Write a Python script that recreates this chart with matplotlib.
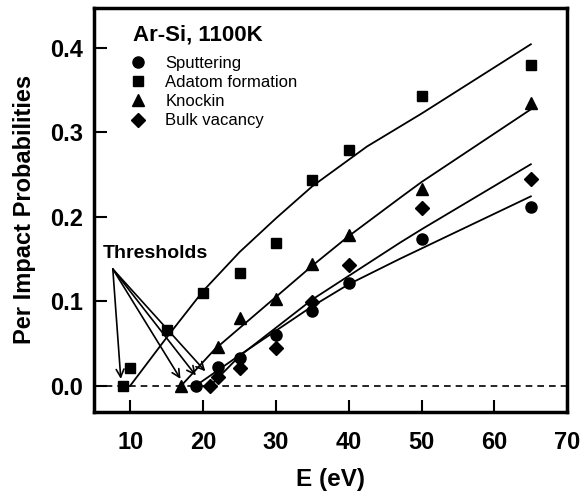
import numpy as np
import matplotlib
matplotlib.use("Agg")
import matplotlib.pyplot as plt

plt.rcParams['font.family'] = ['Liberation Sans', 'DejaVu Sans']

# measured points
sput_E = [19, 22, 25, 30, 35, 40, 50, 65]
sput_P = [0.0, 0.022, 0.033, 0.060, 0.088, 0.122, 0.174, 0.211]

adat_E = [9, 10, 15, 20, 25, 30, 35, 40, 50, 65]
adat_P = [0.0, 0.021, 0.066, 0.110, 0.133, 0.169, 0.243, 0.279, 0.343, 0.379]

knock_E = [17, 22, 25, 30, 35, 40, 50, 65]
knock_P = [0.0, 0.046, 0.080, 0.102, 0.144, 0.178, 0.233, 0.334]

bulk_E = [21, 22, 25, 30, 35, 40, 50, 65]
bulk_P = [0.0, 0.010, 0.021, 0.045, 0.099, 0.143, 0.210, 0.244]

# fitted curves
sput_fit_E = [19, 25, 35, 40, 47, 65]
sput_fit_P = [0.0, 0.036, 0.094, 0.120, 0.150, 0.224]

adat_fit_E = [10, 15, 20, 25, 30, 35, 42.5, 50, 65]
adat_fit_P = [0.0, 0.057, 0.112, 0.158, 0.198, 0.236, 0.283, 0.322, 0.404]

knock_fit_E = [17, 21.6, 30, 35, 40, 47, 50, 65]
knock_fit_P = [0.0, 0.043, 0.105, 0.142, 0.177, 0.222, 0.241, 0.327]

bulk_fit_E = [21, 25, 35, 47, 50, 65]
bulk_fit_P = [0.0, 0.035, 0.102, 0.169, 0.185, 0.262]

# threshold arrows
arrow_from = (7.6, 0.138)
arrow_to_E = [8.7, 16.9, 19.0, 20.3]
arrow_to_P = [0.008, 0.008, 0.012, 0.017]

fig = plt.figure(figsize=(5.83, 4.95), dpi=100)
ax = fig.add_axes([0.161, 0.168, 0.812, 0.816])

ax.axhline(0, color='black', lw=1.2, ls=(0, (4, 3)))

for E, P in [(sput_fit_E, sput_fit_P), (adat_fit_E, adat_fit_P),
             (knock_fit_E, knock_fit_P), (bulk_fit_E, bulk_fit_P)]:
    ax.plot(E, P, color='black', lw=1.3)

ax.plot(sput_E, sput_P, 'o', color='black', ms=8, ls='none', label='Sputtering')
ax.plot(adat_E, adat_P, 's', color='black', ms=7, ls='none', label='Adatom formation')
ax.plot(knock_E, knock_P, '^', color='black', ms=8, ls='none', label='Knockin')
ax.plot(bulk_E, bulk_P, 'D', color='black', ms=7, ls='none', label='Bulk vacancy')

for e, p in zip(arrow_to_E, arrow_to_P):
    ax.annotate('', xy=(e, p), xytext=arrow_from,
                arrowprops=dict(arrowstyle='->', color='black', lw=1.2,
                                shrinkA=0, shrinkB=0, mutation_scale=14))
ax.text(6.2, 0.156, 'Thresholds', fontsize=14, fontweight='bold',
        ha='left', va='center')

ax.set_xlim(5, 70)
ax.set_ylim(-0.031, 0.447)
ax.set_xticks([10, 20, 30, 40, 50, 60, 70])
ax.set_yticks([0.0, 0.1, 0.2, 0.3, 0.4])
ax.set_yticklabels(['0.0', '0.1', '0.2', '0.3', '0.4'])
ax.tick_params(direction='in', length=9, width=1.5, labelsize=17)
ax.tick_params(axis='x', pad=14)
ax.tick_params(axis='y', pad=8)
for lab in ax.get_xticklabels() + ax.get_yticklabels():
    lab.set_fontweight('bold')
for s in ax.spines.values():
    s.set_linewidth(2.5)

ax.set_xlabel('E (eV)', fontsize=17.5, fontweight='bold', labelpad=10)
ax.set_ylabel('Per Impact Probabilities', fontsize=17, fontweight='bold', labelpad=10)

ax.text(0.0825, 0.933, 'Ar-Si, 1100K', transform=ax.transAxes, fontsize=16,
        fontweight='bold', ha='left', va='center')
ax.legend(loc='upper left', bbox_to_anchor=(0.052, 0.91), frameon=False,
          fontsize=12, handlelength=1.0, handletextpad=1.1,
          labelspacing=0.25, borderpad=0.2)

fig.savefig('out.png', dpi=100)
